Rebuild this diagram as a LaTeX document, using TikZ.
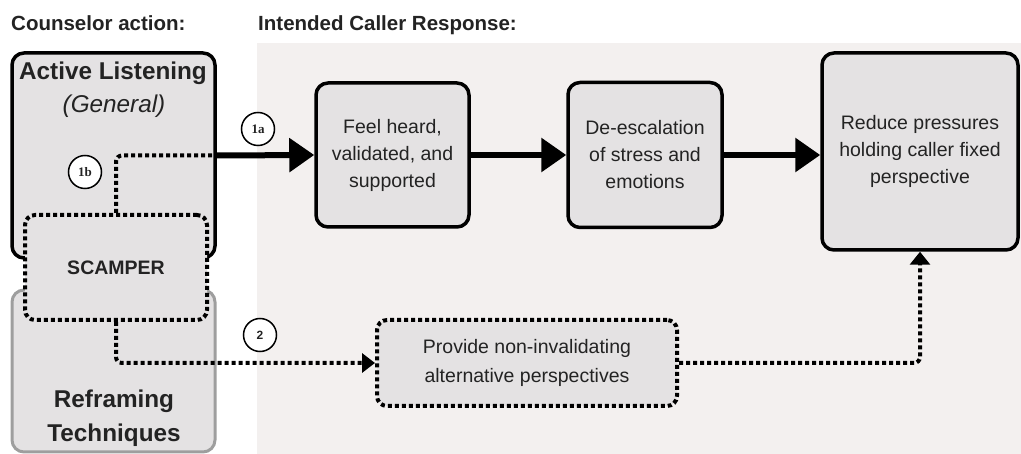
\documentclass[tikz,border=0pt]{standalone}
\usepackage{fontspec}
\setmainfont{Liberation Sans}
\newfontfamily\numfont{Liberation Serif}
\usetikzlibrary{arrows.meta}
\definecolor{panelbg}{RGB}{243,240,239}
\definecolor{boxfill}{RGB}{228,226,227}
\definecolor{softgray}{RGB}{158,158,158}
\definecolor{ink}{RGB}{35,35,35}
\begin{document}
\begin{tikzpicture}[x=1pt,y=-1pt,
  solidbox/.style={draw=black, line width=3.5pt, fill=boxfill, rounded corners=12pt, inner sep=0pt, align=center, text=ink, font=\fontsize{19.5}{27}\selectfont},
  dotbox/.style={draw=black, line width=4pt, dash pattern=on 4pt off 3pt, fill=boxfill, rounded corners=10pt, inner sep=0pt, align=center, text=ink, font=\fontsize{19.5}{28.5}\selectfont},
  thickarrow/.style={line width=6pt, -{Triangle[length=25pt,width=33pt]}},
  dotline/.style={line width=4pt, dash pattern=on 4pt off 3pt, rounded corners=6pt},
  badge/.style={circle, draw=black, line width=1.5pt, fill=white, minimum size=33pt, inner sep=0pt, text=ink},
  textlabel/.style={inner sep=0pt, anchor=base, text=ink},
  headfont/.style={font=\bfseries\fontsize{20.5}{24}\selectfont},
  bigbold/.style={font=\bfseries\fontsize{24.3}{30}\selectfont}
]
\useasboundingbox (0,0) rectangle (1021,454);
\fill[panelbg] (257,43) rectangle (1021,454);

% headers
\node[textlabel, headfont, anchor=base west] (hdrL) at (11,31) {Counselor action:};
\node[textlabel, headfont, anchor=base west] (hdrR) at (258,31) {Intended Caller Response:};

% left column
\node[draw=softgray, line width=3pt, fill=boxfill, rounded corners=12pt, minimum width=203pt, minimum height=162pt, inner sep=0pt] (RF) at (113.5,371) {};
\node[textlabel, bigbold] (rf1) at (114,408) {Reframing};
\node[textlabel, bigbold] (rf2) at (114,442) {Techniques};

\node[solidbox, minimum width=203pt, minimum height=205pt] (AL) at (113.5,155.5) {};
\node[textlabel, bigbold] (al1) at (113,80) {Active Listening};
\node[textlabel, font=\itshape\fontsize{24.3}{30}\selectfont] (al2) at (114,113) {(General)};

\node[dotbox, minimum width=182pt, minimum height=105pt, font=\bfseries\fontsize{19.5}{24}\selectfont] (SC) at (116,267.5) {SCAMPER};

% response boxes
\node[solidbox, minimum width=153pt, minimum height=144pt] (FH) at (392.5,155) {Feel heard,\\validated, and\\supported};
\node[solidbox, minimum width=154pt, minimum height=145pt] (DE) at (645,155) {De-escalation\\of stress and\\emotions};
\node[solidbox, minimum width=196pt, minimum height=197pt] (RP) at (920,151.5) {Reduce pressures\\holding caller fixed\\perspective};
\node[dotbox, minimum width=300pt, minimum height=86pt] (PR) at (527,363) {Provide non-invalidating\\alternative perspectives};

% connectors
\draw[dotline] (SC.north) |- (AL.east);
\draw[thickarrow] (AL.east) -- (FH.west);
\draw[thickarrow] (FH.east) -- (DE.west);
\draw[thickarrow] (DE.east) -- (DE.east -| RP.west);
\draw[dotline, -{Triangle[length=13pt,width=19pt]}] (SC.south) |- (PR.west);
\draw[dotline, -{Triangle[length=13pt,width=20pt]}] (PR.east) -| (RP.south);

% badges
\node[badge, font=\numfont\bfseries\fontsize{13}{13}\selectfont] (b1a) at (258,129) {1a};
\node[badge, font=\numfont\bfseries\fontsize{13}{13}\selectfont] (b1b) at (85,172) {1b};
\node[badge, font=\bfseries\fontsize{12}{12}\selectfont] (b2) at (260,335) {2};
\end{tikzpicture}
\end{document}
